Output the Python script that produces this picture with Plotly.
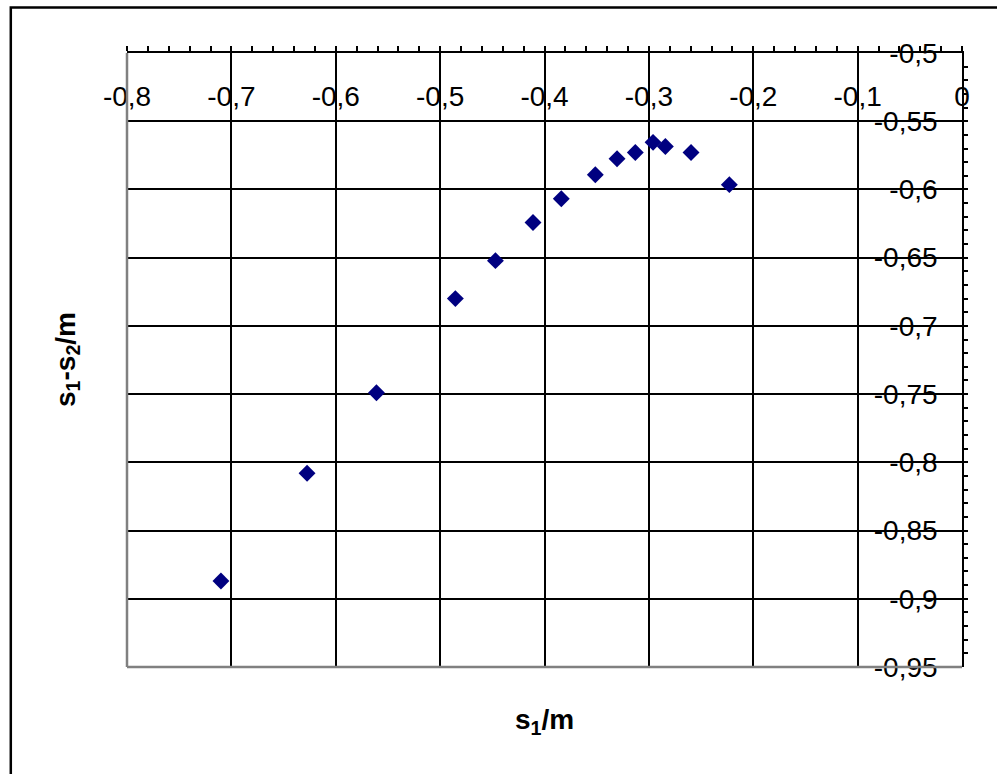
import plotly.graph_objects as go

# data
s1 = [-0.710, -0.6275, -0.561, -0.4854, -0.447, -0.411, -0.3839, -0.3513,
      -0.3305, -0.313, -0.296, -0.2842, -0.2596, -0.2229]
s1_minus_s2 = [-0.887, -0.808, -0.749, -0.680, -0.6522, -0.6242, -0.6068,
               -0.5892, -0.5775, -0.5729, -0.5655, -0.5685, -0.5729, -0.5965]

x_tickvals = [-0.8, -0.7, -0.6, -0.5, -0.4, -0.3, -0.2, -0.1, 0]
x_ticktext = ["-0,8", "-0,7", "-0,6", "-0,5", "-0,4", "-0,3", "-0,2", "-0,1", "0"]
y_tickvals = [-0.5, -0.55, -0.6, -0.65, -0.7, -0.75, -0.8, -0.85, -0.9, -0.95]
y_ticktext = ["-0,5", "-0,55", "-0,6", "-0,65", "-0,7", "-0,75", "-0,8", "-0,85", "-0,9", "-0,95"]

x_title = "s<sub>1</sub>/m"
y_title = "s<sub>1</sub>-s<sub>2</sub>/m"

FONT = "Arial, Liberation Sans, sans-serif"
FS = 28

fig = go.Figure()
fig.add_trace(go.Scatter(
    x=s1, y=s1_minus_s2, mode="markers",
    marker=dict(symbol="diamond", size=13, color="#000080"),
    showlegend=False,
))

W, H = 997, 774
L, R, T, B = 126.7, 35.3, 53.3, 106.7
pw, ph = W - L - R, H - T - B

def px_to_paper_x(px):
    return (px - L) / pw

def px_to_paper_y(py):
    return (H - B - py) / ph

fig.update_layout(
    width=W, height=H, autosize=False,
    margin=dict(l=L, r=R, t=T, b=B, pad=0),
    paper_bgcolor="white", plot_bgcolor="white",
    font=dict(family=FONT, size=FS, color="black"),
    xaxis=dict(
        range=[-0.8, 0], side="top",
        tickvals=x_tickvals, ticktext=x_ticktext,
        ticklabelposition="inside", ticklabelstandoff=36,
        ticklabeloverflow="allow",
        ticks="outside", ticklen=5, tickwidth=2, tickcolor="black",
        minor=dict(dtick=0.02, ticks="outside", ticklen=5, tickwidth=2,
                   tickcolor="black", showgrid=False),
        showgrid=True, gridcolor="black", gridwidth=2,
        showline=True, linecolor="black", linewidth=2,
        zeroline=False, tickfont=dict(size=FS, family=FONT, color="black"),
    ),
    yaxis=dict(
        range=[-0.95, -0.5], side="right",
        tickvals=y_tickvals, ticktext=y_ticktext,
        ticklabelposition="inside", ticklabelstandoff=15,
        ticklabeloverflow="allow",
        ticks="inside", ticklen=12, tickwidth=2, tickcolor="black",
        minor=dict(dtick=0.01, ticks="outside", ticklen=4, tickwidth=2,
                   tickcolor="black", showgrid=False),
        showgrid=True, gridcolor="black", gridwidth=2,
        showline=True, linecolor="black", linewidth=2,
        zeroline=False, tickfont=dict(size=FS, family=FONT, color="black"),
    ),
    shapes=[
        # gray left and bottom border of plot area
        dict(type="line", xref="paper", yref="paper", x0=0, x1=0, y0=0, y1=1,
             line=dict(color="#808080", width=2.5), layer="above"),
        dict(type="line", xref="paper", yref="paper", x0=0, x1=1, y0=0, y1=0,
             line=dict(color="#808080", width=2.5), layer="above"),
        # outer chart frame
        dict(type="rect", xref="paper", yref="paper",
             x0=px_to_paper_x(10.5), x1=px_to_paper_x(1010),
             y0=px_to_paper_y(790), y1=px_to_paper_y(7.8),
             line=dict(color="black", width=2.5), layer="above"),
    ],
    annotations=[
        dict(text="<b>" + x_title + "</b>", xref="paper", yref="paper",
             x=px_to_paper_x(544), y=px_to_paper_y(722), showarrow=False,
             xanchor="center", yanchor="middle", font=dict(size=FS, family=FONT)),
        dict(text="<b>" + y_title + "</b>", xref="paper", yref="paper",
             x=px_to_paper_x(67), y=px_to_paper_y(360), showarrow=False,
             xanchor="center", yanchor="middle", textangle=-90,
             font=dict(size=FS, family=FONT)),
    ],
)

fig.write_html("out.html",
               config={"displayModeBar": False},
               post_script="document.body.style.margin='0px';document.body.style.padding='0px';")
